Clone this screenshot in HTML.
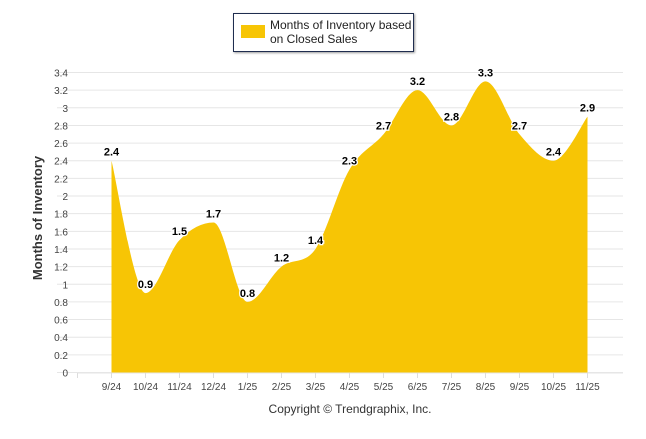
<!DOCTYPE html>
<html><head><meta charset="utf-8"><style>
body{margin:0;background:#fff;font-family:"Liberation Sans",Arial,sans-serif}
svg text{font-family:"Liberation Sans",Arial,sans-serif}
</style></head><body>
<svg id="c" width="646" height="434">
<g>
<rect x="233.5" y="13.5" width="180" height="38" fill="#fff" stroke="#1f2d4f" stroke-width="1" style="filter:drop-shadow(1px 1px 1px #999)"/>
<rect x="241" y="25" width="24" height="13" fill="#F7C505"/>
<text x="270" y="29" font-size="12" fill="#222">Months of Inventory based</text>
<text x="270" y="43" font-size="12" fill="#222">on Closed Sales</text>
</g>
<g id="grid"></g><g id="area"></g><g id="axes"></g><g id="labels"></g>
<text x="42" y="218" font-size="13" font-weight="bold" fill="#333" text-anchor="middle" transform="rotate(-90 42 218)">Months of Inventory</text>
<text x="350" y="413" font-size="12" fill="#333" text-anchor="middle">Copyright © Trendgraphix, Inc.</text>
</svg>
<script>
const categories=["9/24","10/24","11/24","12/24","1/25","2/25","3/25","4/25","5/25","6/25","7/25","8/25","9/25","10/25","11/25"];
const values=[2.4,0.9,1.5,1.7,0.8,1.2,1.4,2.3,2.7,3.2,2.8,3.3,2.7,2.4,2.9];
const yTicks=[0,0.2,0.4,0.6,0.8,1,1.2,1.4,1.6,1.8,2,2.2,2.4,2.6,2.8,3,3.2,3.4];
const NS="http://www.w3.org/2000/svg";
const x=i=>111.5+i*34;
const y=v=>372.5-v*(300/3.4);
function mk(t,a,p){const e=document.createElementNS(NS,t);for(const k in a)e.setAttribute(k,a[k]);p.appendChild(e);return e;}
const grid=document.getElementById('grid'),axes=document.getElementById('axes'),area=document.getElementById('area'),labels=document.getElementById('labels');
yTicks.forEach(v=>{
 const l=mk('line',{x1:57,x2:623,y1:y(v),y2:y(v),stroke:'#e6e6e6','stroke-width':1},grid);
 
 
 const t=mk('text',{x:68,y:y(v)+4,'font-size':10,fill:'#444','text-anchor':'end'},axes);
 t.textContent=String(v);
 
 
});
const ax=mk('line',{x1:77,x2:623,y1:373,y2:373,stroke:'#e6e6e6'},axes);


for(let i=-1;i<categories.length;i++){
 const tk=mk('line',{x1:x(i),x2:x(i),y1:373,y2:378,stroke:'#ddd'},axes);
 
 
}
categories.forEach((c,i)=>{
 const t=mk('text',{x:x(i),y:390,'font-size':10,fill:'#444','text-anchor':'middle'},axes);
 t.textContent=c;
 
 
});
const P=values.map((v,i)=>[x(i),y(v)]);
let d=`M${P[0][0]},${y(0)} L${P[0][0]},${P[0][1]}`;
const s=0.5;
for(let i=0;i<P.length-1;i++){
 const p0=P[Math.max(i-1,0)],p1=P[i],p2=P[i+1],p3=P[Math.min(i+2,P.length-1)];
 const c1=[p1[0]+(p2[0]-p0[0])*s/3*1.0, p1[1]+(p2[1]-p0[1])*s/3*1.0];
 const c2=[p2[0]-(p3[0]-p1[0])*s/3, p2[1]-(p3[1]-p1[1])*s/3];
 // flatten at extrema
 if(i>0&&((p1[1]-p0[1])*(p2[1]-p1[1])<0))c1[1]=p1[1];
 if(i+2<P.length&&((p2[1]-p1[1])*(p3[1]-p2[1])<0))c2[1]=p2[1];
 d+=` C${c1[0]},${c1[1]} ${c2[0]},${c2[1]} ${p2[0]},${p2[1]}`;
}
d+=` L${P[P.length-1][0]},${y(0)} Z`;
const a=mk('path',{d,fill:'#F7C505'},area);


values.forEach((v,i)=>{
 const t=mk('text',{x:x(i),y:y(v)-5,'font-size':11,'font-weight':'bold',fill:'#000','text-anchor':'middle',stroke:'#fff','stroke-width':2.5,'paint-order':'stroke'},labels);
 t.textContent=String(v);
 
 
});
</script>
</body></html>
